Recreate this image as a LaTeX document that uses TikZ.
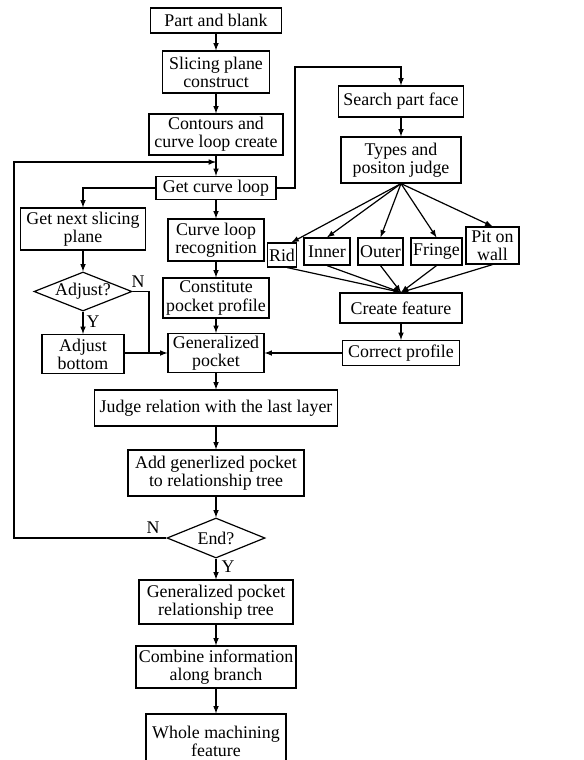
\documentclass[tikz,border=0pt]{standalone}
\usepackage{fontspec}
\setmainfont{Liberation Serif}
\usepackage{tikz}
\usetikzlibrary{shapes.geometric}
\tikzset{every edge/.style={draw}}
\tikzset{box/.style={draw, align=center, inner xsep=1pt, inner ysep=0pt}}
\tikzset{test/.style={draw, diamond, aspect=2.5, inner sep=0pt}}

\begin{document}
\begin{tikzpicture}[x=0.75pt, y=-0.75pt, line width=0.9pt, >=latex, font=\fontsize{13.4}{13.6}\selectfont]
    \useasboundingbox (0,0) rectangle (584,760);

    % main column
    \node[box, minimum width=98.25pt, minimum height=18.75pt] at (216,20.5) (part) {Part and blank};
    \node[box, minimum width=80.25pt, minimum height=31.5pt] at (216,72) (slice) {Slicing plane\\construct};
    \node[box, minimum width=100.5pt, minimum height=30.75pt] at (216,134.5) (contour) {Contours and\\curve loop create};
    \node[box, minimum width=90pt, minimum height=17.25pt] at (216,188) (getloop) {Get curve loop};
    \node[box, minimum width=72pt, minimum height=31.5pt] at (216,240) (recog) {Curve loop\\recognition};
    \node[box, minimum width=79.5pt, minimum height=30pt] at (216,298) (constit) {Constitute\\pocket profile};
    \node[box, minimum width=72pt, minimum height=29.25pt] at (216,353) (gpocket) {Generalized\\pocket};
    \node[box, minimum width=182.25pt, minimum height=27pt] at (216,408) (judge) {Judge relation with the last layer};
    \node[box, minimum width=132pt, minimum height=34.5pt] at (216,473) (addtree) {Add generlized pocket\\to relationship tree};
    \node[test, minimum width=73.5pt, minimum height=30pt] at (216,538) (end) {End?};
    \node[box, minimum width=115.5pt, minimum height=33pt] at (216,602) (gptree) {Generalized pocket\\relationship tree};
    \node[box, minimum width=120pt, minimum height=31.5pt] at (216,667) (combine) {Combine information\\along branch};
    \node[box, minimum width=105pt, minimum height=40.5pt] at (216,741) (whole) {Whole machining\\feature};
    \coordinate (merge) at (216,162);

    % left column
    \node[box, minimum width=93.75pt, minimum height=31.5pt] at (83,229) (nextplane) {Get next slicing\\plane};
    \node[test, minimum width=73.5pt, minimum height=29.25pt] at (83,291.5) (adjust) {Adjust?};
    \node[box, minimum width=61.5pt, minimum height=29.25pt] at (83,354) (adjbottom) {Adjust\\bottom};

    % right column
    \node[box, minimum width=93.75pt, minimum height=23.25pt] at (401,101.5) (search) {Search part face};
    \node[box, minimum width=90pt, minimum height=34.5pt] at (401,160) (types) {Types and\\positon judge};
    \node[box, minimum width=21pt, minimum height=18pt] at (282,255) (rid) {Rid};
    \node[box, minimum width=34.5pt, minimum height=20.25pt] at (327,251.5) (inner) {Inner};
    \node[box, minimum width=33.75pt, minimum height=20.25pt] at (380.5,251.5) (outer) {Outer};
    \node[box, minimum width=38.25pt, minimum height=20.25pt] at (436.5,251.5) (fringe) {Fringe};
    \node[box, minimum width=39.75pt, minimum height=27.75pt] at (492.5,245.5) (pit) {Pit on\\wall};
    \node[box, minimum width=91.5pt, minimum height=22.5pt] at (401,308) (create) {Create feature};
    \node[box, minimum width=87.75pt, minimum height=18.75pt] at (401,353) (correct) {Correct profile};

    % branch labels
    \node at (138,282) (adjN) {N};
    \node at (93,322) (adjY) {Y};
    \node at (153,528) (endN) {N};
    \node at (228,567) (endY) {Y};

    \draw (part) edge[->] (slice);
    \draw (slice) edge[->] (contour);
    \draw (contour) edge[->] (getloop);
    \draw (getloop) edge[->] (recog);
    \draw (recog) edge[->] (constit);
    \draw (constit) edge[->] (gpocket);
    \draw (gpocket) edge[->] (judge);
    \draw (judge) edge[->] (addtree);
    \draw (addtree) edge[->] (end);
    \draw (end) edge[->] (gptree);
    \draw (gptree) edge[->] (combine);
    \draw (combine) edge[->] (whole);

    \draw[->] (end.west) -- (14,538) |- (merge);
    \draw[->] (getloop.west) -| (nextplane.north);
    \draw (nextplane) edge[->] (adjust);
    \draw (adjust) edge[->] (adjbottom);
    \draw (adjust.east) -| (149,353);
    \draw[->] (adjbottom.east |- gpocket) -- (gpocket.west);

    \draw[->] (getloop.east) -| (295,67) -| (search.north);
    \draw (search) edge[->] (types);
    \draw (types.south) edge[->] ([xshift=-4pt]rid.north east);
    \draw (types.south) edge[->] (inner.north);
    \draw (types.south) edge[->] (outer.north);
    \draw (types.south) edge[->] (fringe.north);
    \draw (types.south) edge[->] (pit.north);
    \draw ([xshift=4pt]rid.south) edge[->] (create.north);
    \draw (inner.south) edge[->] (create.north);
    \draw (outer.south) edge[->] (create.north);
    \draw (fringe.south) edge[->] (create.north);
    \draw (pit.south) edge[->] (create.north);
    \draw (create) edge[->] (correct);
    \draw (correct) edge[->] (gpocket);
\end{tikzpicture}
\end{document}
